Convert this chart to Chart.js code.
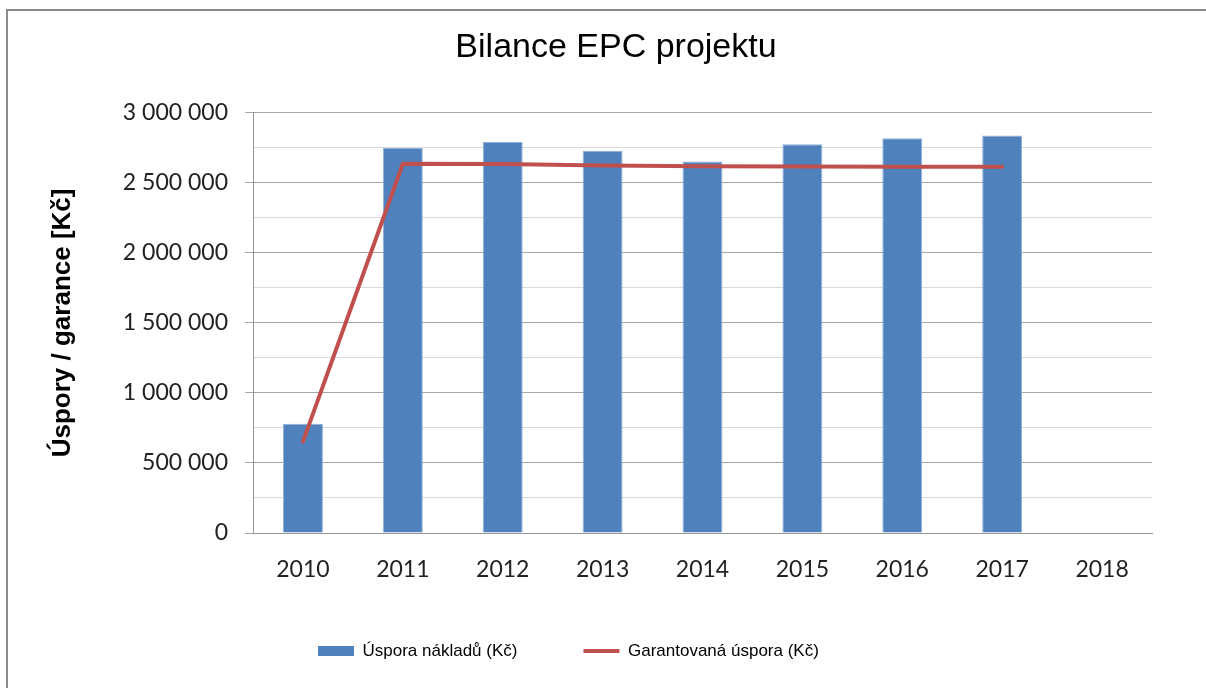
<!DOCTYPE html>
<html>
<head>
<meta charset="utf-8">
<title>Bilance EPC projektu</title>
<script src="https://cdn.jsdelivr.net/npm/chart.js"></script>
<style>
html, body { margin: 0; padding: 0; background: #fff; overflow: hidden; width: 1206px; height: 688px; }
#frame { position: absolute; left: 6px; top: 9px; width: 1198px; height: 677px;
         border-left: 2px solid #8c8c8c; border-top: 2px solid #8c8c8c; }
#wrap { position: absolute; left: 0; top: 0; width: 1206px; height: 688px; }
</style>
</head>
<body>
<div id="frame"></div>
<div id="wrap"><canvas id="epcChart"></canvas></div>
<script>
// Data
const years = ['2010', '2011', '2012', '2013', '2014', '2015', '2016', '2017', '2018'];
const usporaNakladu = [780000, 2748000, 2791000, 2729000, 2652000, 2776000, 2819000, 2838000, null];
const garantovanaUspora = [652000, 2636000, 2634000, 2624000, 2618000, 2616000, 2615000, 2614000, null];

// Axis: gridlines every 250 000, labels every 500 000
const yMax = 3000000;
const yStep = 250000;
const yLabelStep = 500000;

function formatCz(v) {
    return String(v).replace(/\B(?=(\d{3})+(?!\d))/g, ' ');
}

// Excel puts title and legend a bit off the chart centre, so move them after layout
const nudge = {
    id: 'nudge',
    afterLayout(chart) {
        const t = chart.titleBlock;
        t.left += 20;
        t.right += 20;
        const lg = chart.legend;
        const pad = lg.options.labels.padding;
        const half = lg.options.labels.font.size / 2;
        lg.left = 318 - pad;
        lg.right = 1206;
        lg.top = 651 - pad - half;
    }
};

const ctx = document.getElementById('epcChart').getContext('2d');
const chart = new Chart(ctx, {
    data: {
        labels: years,
        datasets: [{
            type: 'bar',
            label: 'Úspora nákladů (Kč)',
            data: usporaNakladu,
            backgroundColor: '#4F81BD',
            borderColor: '#8fb0d8',
            borderWidth: 1,
            barPercentage: 0.4,
            categoryPercentage: 1,
            order: 1
        }, {
            type: 'line',
            label: 'Garantovaná úspora (Kč)',
            data: garantovanaUspora,
            borderColor: '#C0504D',
            backgroundColor: '#C0504D',
            borderWidth: 4,
            borderCapStyle: 'round',
            pointRadius: 0,
            tension: 0,
            order: 0
        }]
    },
    options: {
        responsive: true,
        maintainAspectRatio: false,
        animation: false,
        layout: { padding: { left: 40, right: 54, top: 0, bottom: 0 } },
        plugins: {
            tooltip: { enabled: false },
            title: {
                display: true,
                text: 'Bilance EPC projektu',
                color: '#000',
                font: { family: "'Liberation Sans', Arial, sans-serif", size: 34, weight: 'normal' },
                padding: { top: 27, bottom: 45 }
            },
            legend: {
                position: 'bottom',
                align: 'start',
                maxHeight: 60,
                labels: {
                    usePointStyle: true,
                    pointStyleWidth: 36,
                    boxWidth: 36,
                    boxHeight: 10,
                    padding: 66,
                    color: '#000',
                    font: { family: "'Liberation Sans', Arial, sans-serif", size: 17 },
                    sort: (a, b) => a.datasetIndex - b.datasetIndex,
                    generateLabels(chart) {
                        const items = Chart.defaults.plugins.legend.labels.generateLabels(chart);
                        items.forEach(it => {
                            const ds = chart.data.datasets[it.datasetIndex];
                            it.pointStyle = ds.type === 'line' ? 'line' : 'rect';
                            if (ds.type !== 'line') it.lineWidth = 0;
                        });
                        return items;
                    }
                }
            }
        },
        scales: {
            x: {
                grid: { display: false, drawTicks: false },
                border: { display: true, color: '#969696', width: 1 },
                ticks: {
                    color: '#222',
                    padding: 23,
                    font: { family: 'Lato, sans-serif', size: 23 }
                },
                afterFit: s => { s.height = 95; }
            },
            y: {
                min: 0,
                max: yMax,
                grid: {
                    color: c => (c.tick && c.tick.value % yLabelStep === 0) ? '#a6a6a6' : '#d9d9d9',
                    tickColor: c => (c.tick && c.tick.value % yLabelStep === 0) ? '#a6a6a6' : 'rgba(0,0,0,0)',
                    tickLength: 8,
                    lineWidth: 1
                },
                border: { display: true, color: '#969696', width: 1 },
                ticks: {
                    stepSize: yStep,
                    autoSkip: false,
                    color: '#222',
                    padding: 17,
                    font: { family: 'Lato, sans-serif', size: 23 },
                    callback: v => v % yLabelStep === 0 ? formatCz(v) : ''
                },
                title: {
                    display: true,
                    text: 'Úspory / garance [Kč]',
                    color: '#000',
                    font: { family: "'Liberation Sans', Arial, sans-serif", size: 26, weight: 'bold' },
                    padding: { top: 7, bottom: 0 }
                },
                afterFit: s => { s.width = 213; }
            }
        }
    },
    plugins: [nudge]
});
</script>
</body>
</html>
